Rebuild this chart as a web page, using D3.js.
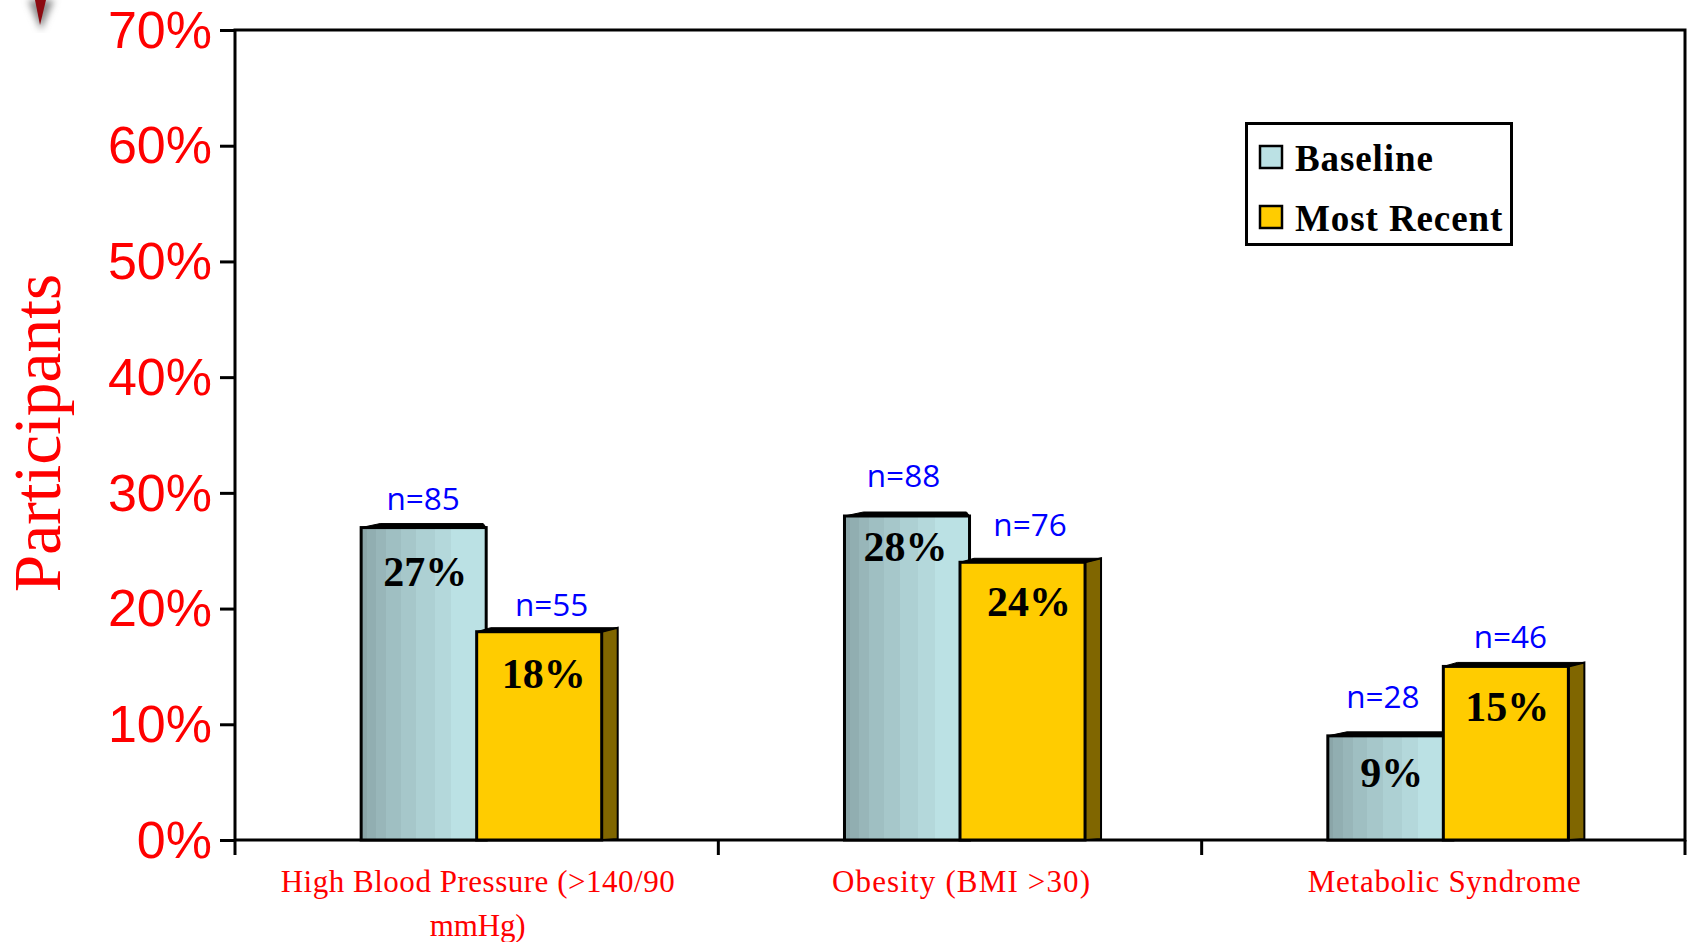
<!DOCTYPE html>
<html>
<head>
<meta charset="utf-8">
<title>Participants by condition</title>
<script src="https://cdn.jsdelivr.net/npm/d3@7/dist/d3.min.js"></script>
<style>
html, body { margin: 0; padding: 0; background: #fff; overflow: hidden; }
svg { display: block; }
</style>
</head>
<body>
<svg id="chart" width="1691" height="942"></svg>
<script>
// Chart data
const categories = ["High Blood Pressure (>140/90 mmHg)", "Obesity (BMI >30)", "Metabolic Syndrome"];
const seriesNames = ["Baseline", "Most Recent"];
const baselineValues = [27, 28, 9];
const recentValues = [18, 24, 15];
const baselineCounts = [85, 88, 28];
const recentCounts = [55, 76, 46];
const yTickValues = [0, 10, 20, 30, 40, 50, 60, 70];
const yTitle = "Participants";

// Layout
const W = 1691, H = 942;
const plot = { left: 235, right: 1685, top: 30, bottom: 840 };
const RED = "#ff0000", BLUE = "#0000ff", STROKE = 3;
const SERIF = "'Liberation Serif', serif";
const SANS = "'Liberation Sans', sans-serif";

const svg = d3.select("#chart");
svg.append("rect").attr("width", W).attr("height", H).attr("fill", "#fff");

const x = d3.scaleBand().domain(categories).range([plot.left, plot.right]);
const y = d3.scaleLinear().domain([0, 70]).range([plot.bottom, plot.top]);

// Bars of one cluster overlap; the pair is centred in its band
const barW = x.bandwidth() * 0.2587;
const barOffset = { "Baseline": x.bandwidth() * 0.261, "Most Recent": x.bandwidth() * 0.5 };
const depth = 16, rise = 4;

const defs = svg.append("defs");

// Banded cylinder shading for the baseline bars
const stripeEdges = [0, 0.045, 0.12, 0.2, 0.315, 0.44, 0.59, 0.72, 1];
const stripeColors = d3.quantize(d3.interpolateRgb("#8aa5a8", "#bbe1e4"), 8);
const grad = defs.append("linearGradient").attr("id", "baselineFill");
stripeColors.forEach((c, i) => {
  grad.append("stop").attr("offset", stripeEdges[i]).attr("stop-color", c);
  grad.append("stop").attr("offset", stripeEdges[i + 1]).attr("stop-color", c);
});

defs.append("filter").attr("id", "soft").attr("x", "-60%").attr("width", "220%")
  .append("feGaussianBlur").attr("stdDeviation", 3.5);

// Tip of the ornament clipped by the top edge
const ornament = svg.append("g");
ornament.append("path").attr("d", d3.line()([[28, 0], [54, 0], [41, 30]]))
  .attr("fill", "#8a8a8a").attr("filter", "url(#soft)");
ornament.append("path").attr("d", d3.line()([[35, 0], [46, 0], [40, 25]])).attr("fill", "#8c0a10");

// Value axis
const yAxis = d3.axisLeft(y).tickValues(yTickValues).tickSize(15).tickPadding(8).tickFormat(d => d + "%");
const yG = svg.append("g").attr("transform", `translate(${plot.left},0)`).call(yAxis);
yG.select(".domain").remove();
yG.selectAll("line").attr("stroke", "#000").attr("stroke-width", STROKE);
yG.selectAll("text").attr("fill", RED).attr("font-family", SANS).attr("font-size", 52).attr("dy", "0.33em");

// Plot frame
svg.append("rect")
  .attr("x", plot.left).attr("y", plot.top)
  .attr("width", plot.right - plot.left).attr("height", plot.bottom - plot.top)
  .attr("fill", "none").attr("stroke", "#000").attr("stroke-width", STROKE);

// Category separators below the baseline
const boundaries = categories.map(c => x(c)).concat([plot.right]);
svg.append("g").selectAll("line").data(boundaries).join("line")
  .attr("x1", d => d).attr("x2", d => d)
  .attr("y1", plot.bottom).attr("y2", plot.bottom + 15)
  .attr("stroke", "#000").attr("stroke-width", STROKE);

// Category labels, wrapped where the band is too narrow and fitted to set widths
const catLineWidths = [394, 96, 258, 273];
const catLines = categories.flatMap(c => {
  const parts = c.includes("mmHg") ? [c.replace(" mmHg)", ""), "mmHg)"] : [c];
  return parts.map((t, row) => ({ t, c, row }));
});
svg.append("g").selectAll("text").data(catLines).join("text")
  .attr("x", d => x(d.c) + x.bandwidth() / 2 + 1)
  .attr("y", d => 892 + d.row * 44)
  .attr("text-anchor", "middle")
  .attr("font-family", SERIF).attr("font-size", 31)
  .attr("textLength", (d, i) => catLineWidths[i])
  .attr("lengthAdjust", "spacing")
  .attr("fill", RED)
  .text(d => d.t);

// Axis title
svg.append("text")
  .attr("transform", "translate(60,433) rotate(-90)")
  .attr("text-anchor", "middle")
  .attr("font-family", SERIF).attr("font-size", 67.5)
  .attr("fill", RED).text(yTitle);

const rows = categories.flatMap((c, i) => [
  { c, s: "Baseline", v: baselineValues[i], n: baselineCounts[i] },
  { c, s: "Most Recent", v: recentValues[i], n: recentCounts[i] }
]);

// Baseline bars first so the later series sits on top of them
const bars = svg.append("g").selectAll("g").data(rows).join("g");
bars.each(function (d) {
  const g = d3.select(this);
  const x0 = x(d.c) + barOffset[d.s];
  const x1 = x0 + barW;
  const yT = y(d.v);
  const yB = y(0);
  if (d.s === "Baseline") {
    g.append("rect").attr("x", x0).attr("y", yT).attr("width", barW).attr("height", yB - yT)
      .attr("fill", "url(#baselineFill)").attr("stroke", "#000").attr("stroke-width", STROKE);
    g.append("path")
      .attr("d", d3.line()([[x0, yT], [x0 + 19, yT - rise], [x1 - 3, yT - rise], [x1, yT]]) + "Z")
      .attr("fill", "#000").attr("stroke", "#000").attr("stroke-width", 1);
  } else {
    g.append("path")
      .attr("d", d3.line()([[x1, yT], [x1 + depth, yT - rise], [x1 + depth, yB - 1], [x1, yB]]) + "Z")
      .attr("fill", "#806600").attr("stroke", "#000").attr("stroke-width", 2);
    g.append("rect").attr("x", x0).attr("y", yT).attr("width", barW).attr("height", yB - yT)
      .attr("fill", "#ffcc00").attr("stroke", "#000").attr("stroke-width", STROKE);
    g.append("path")
      .attr("d", d3.line()([[x0, yT], [x0 + 14, yT - rise], [x1 + depth, yT - rise], [x1, yT]]) + "Z")
      .attr("fill", "#000").attr("stroke", "#000").attr("stroke-width", 1);
  }
});

// Hand-placed label offsets, in the order of rows
const pctNudgeX = [1, 4, -2, 6, 1, 1];
const pctNudgeY = [4, 2, -9, 0, -3, 1];
const countNudgeX = [0, 1, -3, -4, -7, -7];
const countNudgeY = [0, 2, -11, -8, -10, 0];

// Percentage labels and sample sizes
svg.append("g").selectAll("text").data(rows).join("text")
  .attr("x", (d, i) => x(d.c) + barOffset[d.s] + 63 + pctNudgeX[i])
  .attr("y", (d, i) => y(d.v) + 54 + pctNudgeY[i])
  .attr("text-anchor", "middle")
  .attr("font-family", SERIF).attr("font-weight", "bold").attr("font-size", 42)
  .attr("fill", "#000").text(d => d.v + "%");

svg.append("g").selectAll("text").data(rows).join("text")
  .attr("x", (d, i) => x(d.c) + barOffset[d.s] + (d.s === "Baseline" ? 62 : 74) + countNudgeX[i])
  .attr("y", (d, i) => y(d.v) - 18 + countNudgeY[i])
  .attr("text-anchor", "middle")
  .attr("font-family", "'Open Sans', sans-serif").attr("font-size", 31.5)
  .attr("fill", BLUE).text(d => "n=" + d.n);

// Legend
const legend = svg.append("g");
legend.append("rect").attr("x", 1246.5).attr("y", 123.5).attr("width", 265).attr("height", 121)
  .attr("fill", "#fff").attr("stroke", "#000").attr("stroke-width", STROKE);
const legendColors = d3.scaleOrdinal().domain(seriesNames).range(["#bbe1e4", "#ffcc00"]);
const legendY = d3.scalePoint().domain(seriesNames).range([157, 217]);
seriesNames.forEach(s => {
  legend.append("rect").attr("x", 1260).attr("y", legendY(s) - 11).attr("width", 22).attr("height", 22)
    .attr("fill", legendColors(s)).attr("stroke", "#000").attr("stroke-width", 2.5);
  legend.append("text").attr("x", 1295).attr("y", legendY(s) + 14)
    .attr("font-family", SERIF).attr("font-weight", "bold").attr("font-size", 37)
    .attr("letter-spacing", 0.9).attr("fill", "#000").text(s);
});
</script>
</body>
</html>
